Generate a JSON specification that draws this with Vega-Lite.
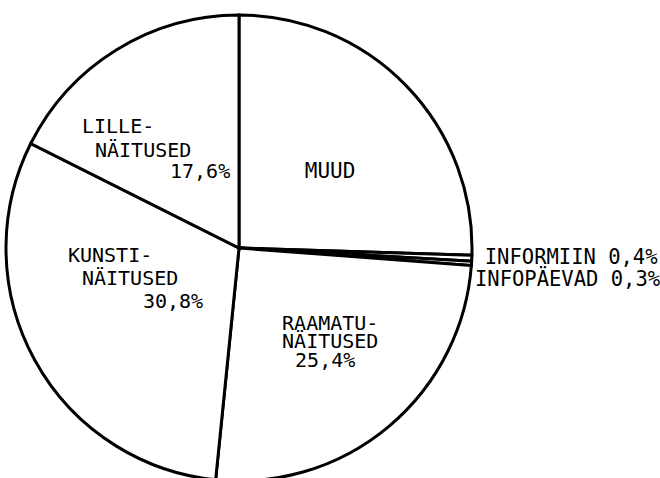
{
  "$schema": "https://vega.github.io/schema/vega-lite/v6.json",
  "width": 478,
  "height": 496,
  "autosize": {"type": "none"},
  "padding": {"left": 0, "top": 0, "right": 182, "bottom": 0},
  "background": "white",
  "view": {"stroke": null},
  "config": {"text": {"font": "DejaVu Sans Mono", "fontSize": 20, "fill": "black", "align": "left", "baseline": "alphabetic"}},
  "data": {
    "values": [
      {"label": "MUUD", "l1": "MUUD", "l2": "", "l3": "", "share": 25.5, "idx": 1},
      {"label": "INFORMIIN", "l1": "INFORMIIN 0,4%", "l2": "", "l3": "", "share": 0.4, "idx": 2},
      {"label": "INFOPÄEVAD", "l1": "INFOPÄEVAD 0,3%", "l2": "", "l3": "", "share": 0.3, "idx": 3},
      {"label": "RAAMATUNÄITUSED", "l1": "RAAMATU-", "l2": "NÄITUSED", "l3": "25,4%", "share": 25.4, "idx": 4},
      {"label": "KUNSTINÄITUSED", "l1": "KUNSTI-", "l2": "NÄITUSED", "l3": "30,8%", "share": 30.8, "idx": 5},
      {"label": "LILLENÄITUSED", "l1": "LILLE-", "l2": "NÄITUSED", "l3": "17,6%", "share": 17.6, "idx": 6}
    ]
  },
  "encoding": {
    "theta": {"field": "share", "type": "quantitative", "stack": true},
    "order": {"field": "idx", "type": "quantitative"}
  },
  "layer": [
    {
      "mark": {"type": "arc", "outerRadius": 233, "fill": "white", "stroke": "black", "strokeWidth": 3}
    },
    {
      "mark": {"type": "text", "radius": 100, "dx": -6, "dy": 0, "fontSize": 21},
      "encoding": {"text": {"condition": {"test": "datum.label === 'MUUD'", "field": "l1"}, "value": ""}}
    },
    {
      "mark": {"type": "text", "radius": 250, "dx": -4, "dy": 5, "fontSize": 20.5},
      "encoding": {"text": {"condition": {"test": "datum.label === 'INFORMIIN'", "field": "l1"}, "value": ""}}
    },
    {
      "mark": {"type": "text", "radius": 250, "dx": -13.5, "dy": 21.5, "fontSize": 20.5},
      "encoding": {"text": {"condition": {"test": "datum.label === 'INFOPÄEVAD'", "field": "l1"}, "value": ""}}
    },
    {
      "mark": {"type": "text", "radius": 120, "dx": -34, "dy": -10},
      "encoding": {"text": {"condition": {"test": "datum.label === 'RAAMATUNÄITUSED'", "field": "l1"}, "value": ""}}
    },
    {
      "mark": {"type": "text", "radius": 120, "dx": -34, "dy": 8},
      "encoding": {"text": {"condition": {"test": "datum.label === 'RAAMATUNÄITUSED'", "field": "l2"}, "value": ""}}
    },
    {
      "mark": {"type": "text", "radius": 120, "dx": -21, "dy": 27},
      "encoding": {"text": {"condition": {"test": "datum.label === 'RAAMATUNÄITUSED'", "field": "l3"}, "value": ""}}
    },
    {
      "mark": {"type": "text", "radius": 150, "dx": -39.6, "dy": -58.3},
      "encoding": {"text": {"condition": {"test": "datum.label === 'KUNSTINÄITUSED'", "field": "l1"}, "value": ""}}
    },
    {
      "mark": {"type": "text", "radius": 150, "dx": -25.6, "dy": -35.3},
      "encoding": {"text": {"condition": {"test": "datum.label === 'KUNSTINÄITUSED'", "field": "l2"}, "value": ""}}
    },
    {
      "mark": {"type": "text", "radius": 150, "dx": 35.4, "dy": -12.3},
      "encoding": {"text": {"condition": {"test": "datum.label === 'KUNSTINÄITUSED'", "field": "l3"}, "value": ""}}
    },
    {
      "mark": {"type": "text", "radius": 140, "dx": -83.5, "dy": 4.2},
      "encoding": {"text": {"condition": {"test": "datum.label === 'LILLENÄITUSED'", "field": "l1"}, "value": ""}}
    },
    {
      "mark": {"type": "text", "radius": 140, "dx": -70.5, "dy": 28.2},
      "encoding": {"text": {"condition": {"test": "datum.label === 'LILLENÄITUSED'", "field": "l2"}, "value": ""}}
    },
    {
      "mark": {"type": "text", "radius": 140, "dx": 4.5, "dy": 49.2},
      "encoding": {"text": {"condition": {"test": "datum.label === 'LILLENÄITUSED'", "field": "l3"}, "value": ""}}
    }
  ]
}
